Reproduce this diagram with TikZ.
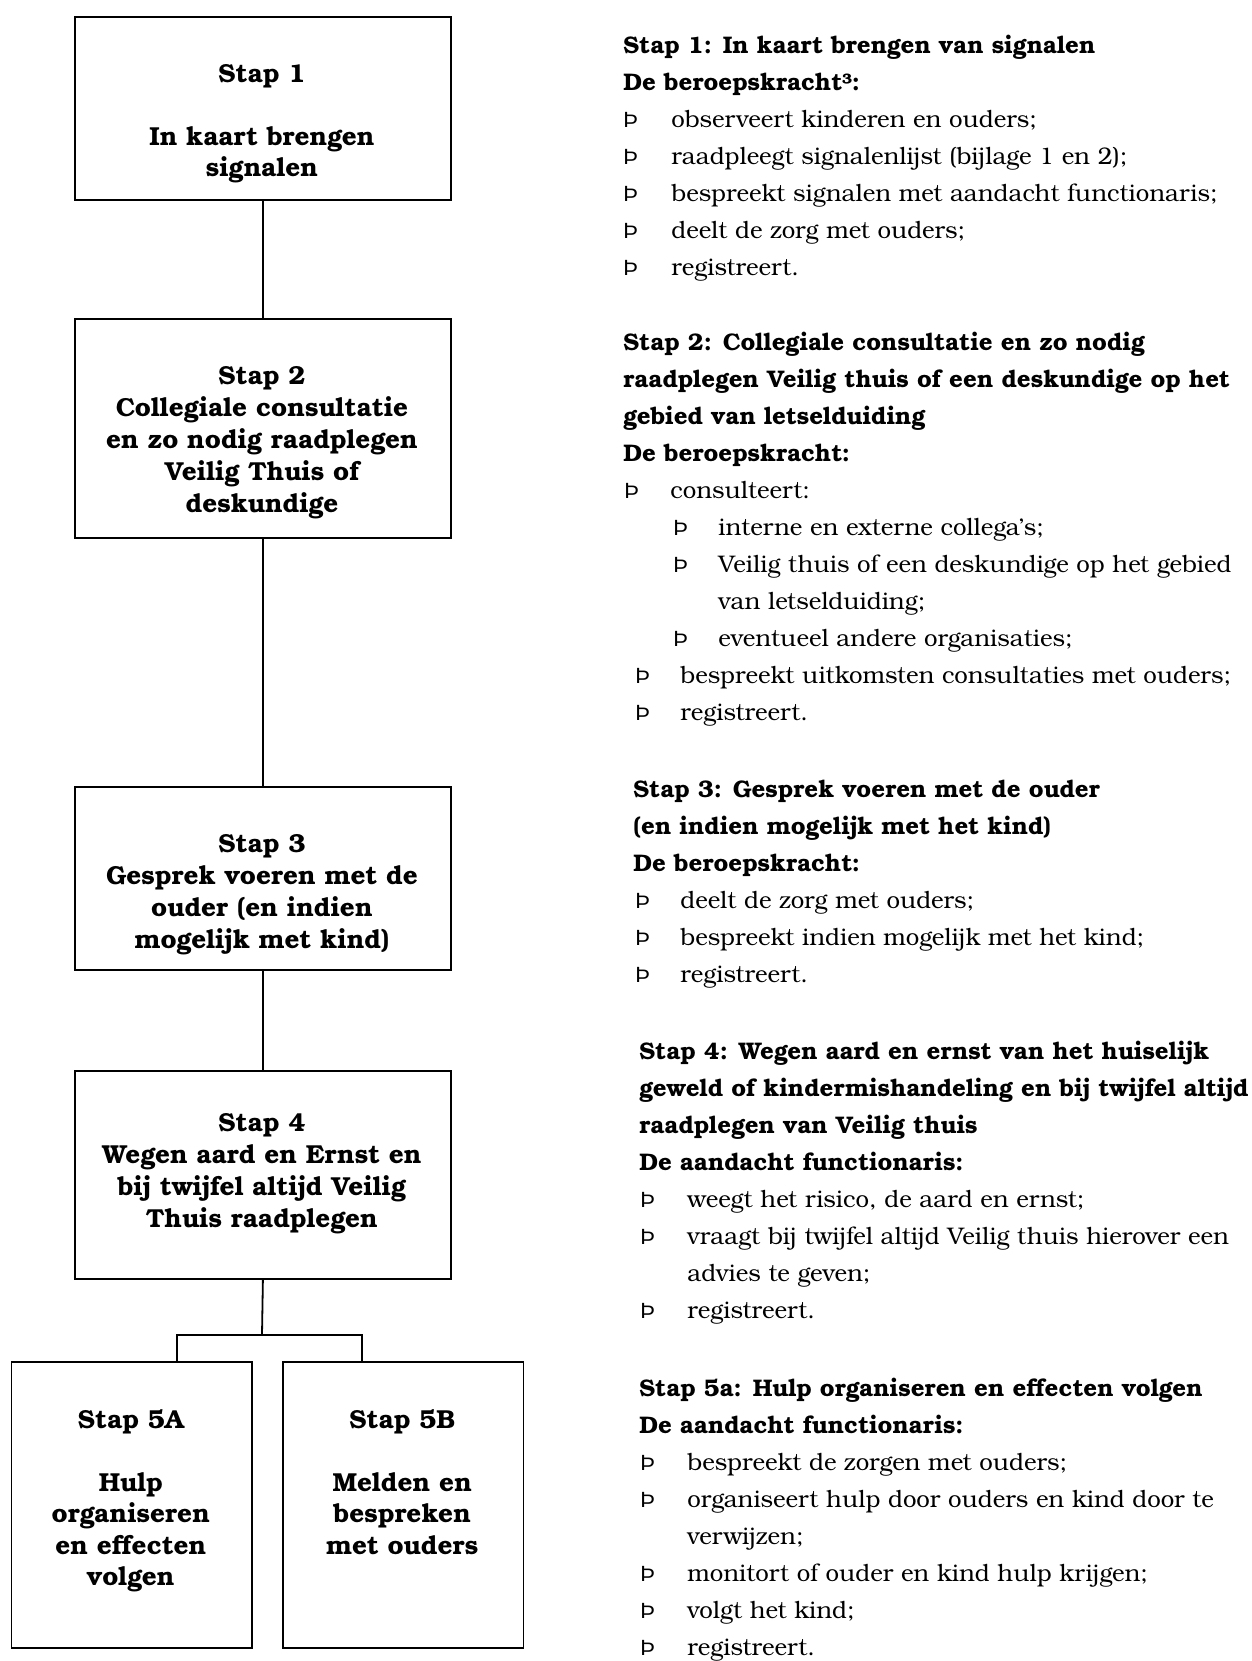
\documentclass[tikz,border=0pt]{standalone}
\usepackage{fontspec}
\setmainfont{texgyrebonum}[Extension=.otf,UprightFont=*-regular,BoldFont=*-bold,ItalicFont=*-italic,BoldItalicFont=*-bolditalic]
\newfontfamily\thornfont{Liberation Sans}
\newcommand\mytxt[5]{\node[#4] (#1) at (#2,#3) {#5};}
\begin{document}
\begin{tikzpicture}[x=0.5pt,y=-0.5pt,
  box/.style={draw,line width=0.9pt,inner sep=0pt,anchor=north west},
  conn/.style={line width=0.9pt},
  bt/.style={font=\bfseries\fontsize{13}{16}\selectfont,anchor=base,inner sep=0pt},
  hd/.style={font=\bfseries\fontsize{12}{15}\selectfont,anchor=base west,inner sep=0pt},
  tx/.style={font=\fontsize{12}{15}\selectfont,anchor=base west,inner sep=0pt},
  th/.style={font=\thornfont\fontsize{11}{13}\selectfont,anchor=base west,inner sep=0pt}]
\useasboundingbox (0,0) rectangle (1252,1661);

% ---- boxes ----
\node[box,minimum width=188pt,minimum height=91.5pt] (b1) at (74,16) {};
\node[box,minimum width=188pt,minimum height=109.5pt] (b2) at (74,318) {};
\node[box,minimum width=188pt,minimum height=91.5pt] (b3) at (74,786) {};
\node[box,minimum width=188pt,minimum height=104pt] (b4) at (74,1070) {};
\node[box,minimum width=120.2pt,minimum height=143pt] (b5a) at (10.6,1361) {};
\node[box,minimum width=120.3pt,minimum height=143pt] (b5b) at (282,1361) {};

% ---- connectors ----
\coordinate (j) at (262,1335);
\coordinate (jl) at (177,1335);
\coordinate (jr) at (362,1335);
\draw[conn] (b1.south) -- (b2.north);
\draw[conn] (b2.south) -- (b3.north);
\draw[conn] (b3.south) -- (b4.north);
\draw[conn] (b4.south) -- (j);
\draw[conn] (jl |- b5a.north) -- (jl) -- (jr) -- (jr |- b5b.north);

% ---- box texts ----
\mytxt{b1a}{262}{82}{bt}{Stap 1}
\mytxt{b1b}{262}{145}{bt}{In kaart brengen}
\mytxt{b1c}{262}{176}{bt}{signalen}

\mytxt{b2a}{262}{384}{bt}{Stap 2}
\mytxt{b2b}{262}{416}{bt}{Collegiale consultatie}
\mytxt{b2c}{262}{448}{bt}{en zo nodig raadplegen}
\mytxt{b2d}{262}{480}{bt}{Veilig Thuis of}
\mytxt{b2e}{262}{512}{bt}{deskundige}

\mytxt{b3a}{262}{852}{bt}{Stap 3}
\mytxt{b3b}{262}{884}{bt}{Gesprek voeren met de}
\mytxt{b3c}{262}{916}{bt}{ouder (en indien}
\mytxt{b3d}{262}{948}{bt}{mogelijk met kind)}

\mytxt{b4a}{262}{1131}{bt}{Stap 4}
\mytxt{b4b}{262}{1163}{bt}{Wegen aard en Ernst en}
\mytxt{b4c}{262}{1195}{bt}{bij twijfel altijd Veilig}
\mytxt{b4d}{262}{1227}{bt}{Thuis raadplegen}

\mytxt{b5aa}{130.8}{1428}{bt}{Stap 5A}
\mytxt{b5ab}{130.8}{1491}{bt}{Hulp}
\mytxt{b5ac}{130.8}{1522.5}{bt}{organiseren}
\mytxt{b5ad}{130.8}{1554}{bt}{en effecten}
\mytxt{b5ae}{130.8}{1585.5}{bt}{volgen}

\mytxt{b5ba}{402.3}{1428}{bt}{Stap 5B}
\mytxt{b5bb}{402.3}{1491}{bt}{Melden en}
\mytxt{b5bc}{402.3}{1522.5}{bt}{bespreken}
\mytxt{b5bd}{402.3}{1554}{bt}{met ouders}

% ---- right column: step 1 ----
\mytxt{s1h}{623}{53}{hd}{Stap 1: In kaart brengen van signalen}
\mytxt{s1d}{623}{90}{hd}{De beroepskracht³:}
\mytxt{s1p1}{623}{127}{th}{Þ}\mytxt{s1t1}{671}{127}{tx}{observeert kinderen en ouders;}
\mytxt{s1p2}{623}{164}{th}{Þ}\mytxt{s1t2}{671}{164}{tx}{raadpleegt signalenlijst (bijlage 1 en 2);}
\mytxt{s1p3}{623}{201}{th}{Þ}\mytxt{s1t3}{671}{201}{tx}{bespreekt signalen met aandacht functionaris;}
\mytxt{s1p4}{623}{238}{th}{Þ}\mytxt{s1t4}{671}{238}{tx}{deelt de zorg met ouders;}
\mytxt{s1p5}{623}{275}{th}{Þ}\mytxt{s1t5}{671}{275}{tx}{registreert.}

% ---- step 2 ----
\mytxt{s2h1}{623}{350}{hd}{Stap 2: Collegiale consultatie en zo nodig}
\mytxt{s2h2}{623}{387}{hd}{raadplegen Veilig thuis of een deskundige op het}
\mytxt{s2h3}{623}{424}{hd}{gebied van letselduiding}
\mytxt{s2d}{623}{461}{hd}{De beroepskracht:}
\mytxt{s2p1}{624}{498}{th}{Þ}\mytxt{s2t1}{670}{498}{tx}{consulteert:}
\mytxt{s2q1}{673}{535}{th}{Þ}\mytxt{s2u1}{718}{535}{tx}{interne en externe collega’s;}
\mytxt{s2q2}{673}{572}{th}{Þ}\mytxt{s2u2}{718}{572}{tx}{Veilig thuis of een deskundige op het gebied}
\mytxt{s2u2b}{718}{609}{tx}{van letselduiding;}
\mytxt{s2q3}{673}{646}{th}{Þ}\mytxt{s2u3}{718}{646}{tx}{eventueel andere organisaties;}
\mytxt{s2p2}{635}{683}{th}{Þ}\mytxt{s2t2}{680}{683}{tx}{bespreekt uitkomsten consultaties met ouders;}
\mytxt{s2p3}{635}{720}{th}{Þ}\mytxt{s2t3}{680}{720}{tx}{registreert.}

% ---- step 3 ----
\mytxt{s3h1}{633}{797}{hd}{Stap 3: Gesprek voeren met de ouder}
\mytxt{s3h2}{633}{834}{hd}{(en indien mogelijk met het kind)}
\mytxt{s3d}{633}{871}{hd}{De beroepskracht:}
\mytxt{s3p1}{635}{908}{th}{Þ}\mytxt{s3t1}{680}{908}{tx}{deelt de zorg met ouders;}
\mytxt{s3p2}{635}{945}{th}{Þ}\mytxt{s3t2}{680}{945}{tx}{bespreekt indien mogelijk met het kind;}
\mytxt{s3p3}{635}{982}{th}{Þ}\mytxt{s3t3}{680}{982}{tx}{registreert.}

% ---- step 4 ----
\mytxt{s4h1}{639}{1059}{hd}{Stap 4: Wegen aard en ernst van het huiselijk}
\mytxt{s4h2}{639}{1096}{hd}{geweld of kindermishandeling en bij twijfel altijd}
\mytxt{s4h3}{639}{1133}{hd}{raadplegen van Veilig thuis}
\mytxt{s4d}{639}{1170}{hd}{De aandacht functionaris:}
\mytxt{s4p1}{640}{1207}{th}{Þ}\mytxt{s4t1}{687}{1207}{tx}{weegt het risico, de aard en ernst;}
\mytxt{s4p2}{640}{1244}{th}{Þ}\mytxt{s4t2}{687}{1244}{tx}{vraagt bij twijfel altijd Veilig thuis hierover een}
\mytxt{s4t2b}{687}{1281}{tx}{advies te geven;}
\mytxt{s4p3}{640}{1318}{th}{Þ}\mytxt{s4t3}{687}{1318}{tx}{registreert.}

% ---- step 5a ----
\mytxt{s5h}{639}{1396}{hd}{Stap 5a: Hulp organiseren en effecten volgen}
\mytxt{s5d}{639}{1433}{hd}{De aandacht functionaris:}
\mytxt{s5p1}{640}{1470}{th}{Þ}\mytxt{s5t1}{687}{1470}{tx}{bespreekt de zorgen met ouders;}
\mytxt{s5p2}{640}{1507}{th}{Þ}\mytxt{s5t2}{687}{1507}{tx}{organiseert hulp door ouders en kind door te}
\mytxt{s5t2b}{687}{1544}{tx}{verwijzen;}
\mytxt{s5p3}{640}{1581}{th}{Þ}\mytxt{s5t3}{687}{1581}{tx}{monitort of ouder en kind hulp krijgen;}
\mytxt{s5p4}{640}{1618}{th}{Þ}\mytxt{s5t4}{687}{1618}{tx}{volgt het kind;}
\mytxt{s5p5}{640}{1655}{th}{Þ}\mytxt{s5t5}{687}{1655}{tx}{registreert.}
\end{tikzpicture}
\end{document}
